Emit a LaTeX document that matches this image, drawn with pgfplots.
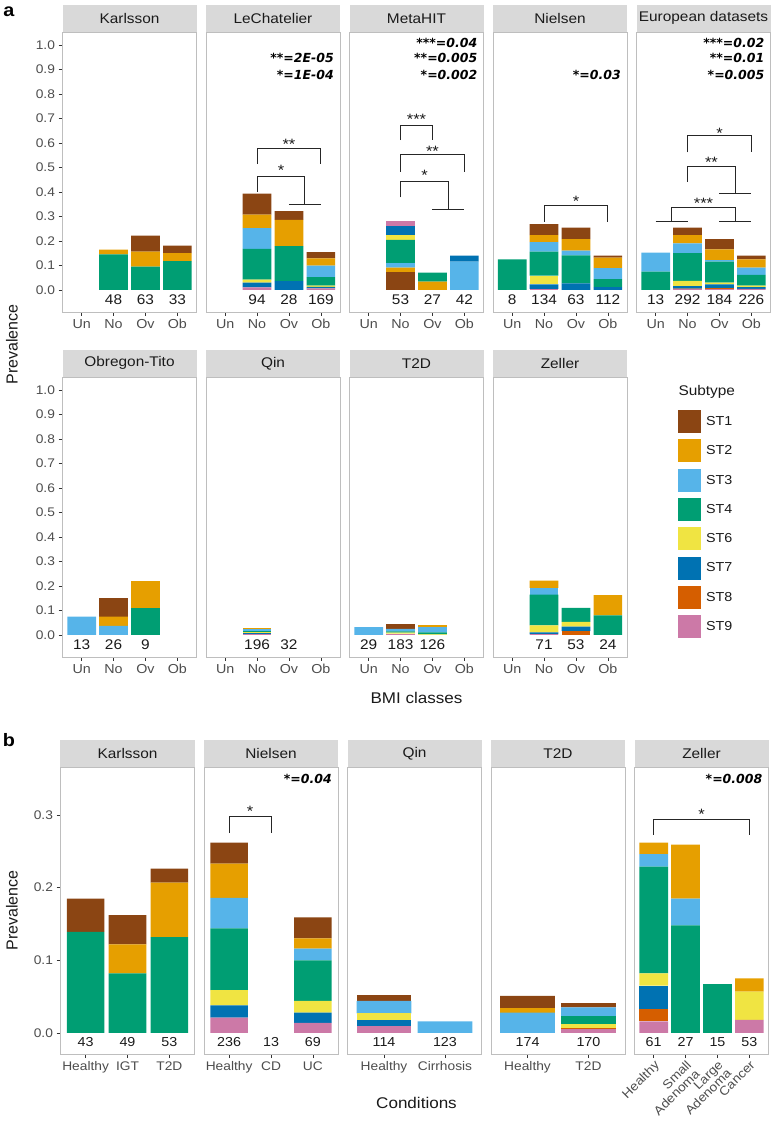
\documentclass[border=0pt]{standalone}
\usepackage{pgfplots}
\pgfplotsset{compat=1.18}
\usepackage{pgfplotstable}
\usepackage{fontspec}
\setmainfont{Liberation Sans}[FakeStretch=1.1]
\newfontfamily\plainsans{Liberation Sans}
\newfontfamily\annfont{DejaVu Sans}

\definecolor{c1}{RGB}{139,69,19}
\definecolor{c2}{RGB}{230,159,0}
\definecolor{c3}{RGB}{86,180,233}
\definecolor{c4}{RGB}{0,158,115}
\definecolor{c6}{RGB}{240,228,66}
\definecolor{c7}{RGB}{0,114,178}
\definecolor{c8}{RGB}{213,94,0}
\definecolor{c9}{RGB}{204,121,167}
\definecolor{stripgray}{RGB}{217,217,217}
\definecolor{bordergray}{RGB}{190,190,190}
\definecolor{tickgray}{RGB}{51,51,51}
\definecolor{labgray}{RGB}{77,77,77}
\definecolor{txt}{RGB}{26,26,26}

% ---------------- data (prevalence per subtype) ----------------
% panel a: x = 1 Un, 2 No, 3 Ov, 4 Ob
\pgfplotstableread{
x ST9 ST8 ST7 ST6 ST4 ST3 ST2 ST1
2 0 0 0 0 0.145 0 0.020 0
3 0 0 0 0 0.095 0 0.061 0.066
4 0 0 0 0 0.118 0 0.032 0.031
}\tKarA
\pgfplotstableread{
x ST9 ST8 ST7 ST6 ST4 ST3 ST2 ST1
2 0.010 0 0.020 0.012 0.126 0.084 0.055 0.086
3 0 0 0.036 0 0.143 0 0.107 0.036
4 0.006 0 0.006 0.006 0.034 0.047 0.030 0.025
}\tLeCA
\pgfplotstableread{
x ST9 ST8 ST7 ST6 ST4 ST3 ST2 ST1
2 0.022 0 0.037 0.020 0.095 0.018 0.019 0.072
3 0 0 0 0 0.037 0 0.034 0
4 0 0 0.024 0 0 0.116 0 0
}\tMetA
\pgfplotstableread{
x ST9 ST8 ST7 ST6 ST4 ST3 ST2 ST1
1 0 0 0 0 0.125 0 0 0
2 0.004 0 0.019 0.035 0.098 0.039 0.029 0.045
3 0 0 0.027 0 0.114 0.019 0.047 0.047
4 0 0 0.011 0 0.033 0.045 0.043 0.008
}\tNieA
\pgfplotstableread{
x ST9 ST8 ST7 ST6 ST4 ST3 ST2 ST1
1 0 0 0 0 0.075 0.077 0 0
2 0.003 0.002 0.011 0.021 0.113 0.040 0.034 0.030
3 0.003 0.004 0.016 0.007 0.086 0.006 0.044 0.041
4 0.004 0 0.007 0.007 0.043 0.030 0.034 0.015
}\tEurA
\pgfplotstableread{
x ST9 ST8 ST7 ST6 ST4 ST3 ST2 ST1
1 0 0 0 0 0 0.075 0 0
2 0 0 0 0 0 0.037 0.038 0.077
3 0 0 0 0 0.110 0 0.110 0
}\tObrA
\pgfplotstableread{
x ST9 ST8 ST7 ST6 ST4 ST3 ST2 ST1
2 0.003 0 0.004 0.003 0.006 0.009 0.003 0.002
}\tQinA
\pgfplotstableread{
x ST9 ST8 ST7 ST6 ST4 ST3 ST2 ST1
1 0 0 0 0 0 0.032 0 0
2 0.002 0 0.003 0.004 0.006 0.010 0 0.021
3 0 0 0 0.002 0.008 0.022 0.007 0
}\tTtdA
\pgfplotstableread{
x ST9 ST8 ST7 ST6 ST4 ST3 ST2 ST1
2 0.002 0 0.008 0.029 0.126 0.027 0.030 0
3 0 0.016 0.018 0.019 0.058 0 0 0
4 0 0 0 0 0.080 0 0.083 0
}\tZelA
% panel b
\pgfplotstableread{
x ST9 ST8 ST7 ST6 ST4 ST3 ST2 ST1
1 0 0 0 0 0.139 0 0 0.046
2 0 0 0 0 0.082 0 0.040 0.040
3 0 0 0 0 0.132 0 0.075 0.019
}\tKarB
\pgfplotstableread{
x ST9 ST8 ST7 ST6 ST4 ST3 ST2 ST1
1 0.021 0 0.017 0.021 0.085 0.042 0.047 0.029
3 0.014 0 0.014 0.016 0.056 0.016 0.014 0.029
}\tNieB
\pgfplotstableread{
x ST9 ST8 ST7 ST6 ST4 ST3 ST2 ST1
1 0.009 0 0.009 0.009 0 0.017 0 0.008
2 0 0 0 0 0 0.016 0 0
}\tQinB
\pgfplotstableread{
x ST9 ST8 ST7 ST6 ST4 ST3 ST2 ST1
1 0 0 0 0 0 0.028 0.006 0.017
2 0.005 0.002 0 0.005 0.011 0.012 0 0.006
}\tTtdB
\pgfplotstableread{
x ST9 ST8 ST7 ST6 ST4 ST3 ST2 ST1
1 0.016 0.017 0.032 0.017 0.147 0.017 0.016 0
2 0 0 0 0 0.148 0.037 0.074 0
3 0 0 0 0 0.067 0 0 0
4 0.018 0 0 0.039 0 0 0.018 0
}\tZelB

\newcommand{\seg}[3]{\addplot[fill=#2,draw=none,legend image code/.code={\fill[#2] (0pt,-11.5pt) rectangle (23pt,11.5pt);}] table[x=x,y=#1]{#3};}
\newcommand{\stacks}[1]{\seg{ST9}{c9}{#1}\seg{ST8}{c8}{#1}\seg{ST7}{c7}{#1}\seg{ST6}{c6}{#1}\seg{ST4}{c4}{#1}\seg{ST3}{c3}{#1}\seg{ST2}{c2}{#1}\seg{ST1}{c1}{#1}}
\newcommand{\stacksrev}[1]{\seg{ST1}{c1}{#1}\seg{ST2}{c2}{#1}\seg{ST3}{c3}{#1}\seg{ST4}{c4}{#1}\seg{ST6}{c6}{#1}\seg{ST7}{c7}{#1}\seg{ST8}{c8}{#1}\seg{ST9}{c9}{#1}}
\newcommand{\brk}[5]{\draw[brk] (axis cs:#1,#4) |- (axis cs:#2,#3) -- (axis cs:#2,#5);}
\newcommand{\xbar}[3]{\draw[brk] (axis cs:#1,#3) -- (axis cs:#2,#3);}

\pgfplotsset{
  facet/.style={
    scale only axis, width=134pt, anchor=south west,
    ybar stacked, bar width=0.9,
    axis line style={draw=bordergray, line width=0.6pt},
    tick align=outside, xtick pos=left, ytick pos=left,
    major tick length=4pt,
    tick style={draw=tickgray, line width=0.7pt},
    clip=false,
    every axis title/.style={at={(0.5,1)}, anchor=south, fill=stripgray, minimum width=134pt, minimum height=27pt, inner sep=0pt, font=\fontsize{14}{15}\selectfont, text=txt},
    ytick=\empty,
    xticklabel style={font=\fontsize{13}{15}\selectfont, text=labgray},
    yticklabel style={font=\fontsize{12.5}{14}\selectfont, text=labgray},
  },
  facetA/.style={facet, height=280pt, ymin=-0.09, ymax=1.053, xmin=0.4, xmax=4.6,
    xtick={1,2,3,4}, xticklabels={Un,No,Ov,Ob}},
  ylabA/.style={ytick={0,0.1,0.2,0.3,0.4,0.5,0.6,0.7,0.8,0.9,1.0},
    yticklabels={0.0,0.1,0.2,0.3,0.4,0.5,0.6,0.7,0.8,0.9,1.0}},
  facetB/.style={facet, height=287pt, ymin=-0.029, ymax=0.366},
}
\tikzset{
  brk/.style={draw=black!85, line width=0.85pt},
  cnt/.style={font=\fontsize{14}{14}\selectfont, text=txt, inner sep=0pt},
  cntb/.style={font=\fontsize{13}{13}\selectfont, text=txt, inner sep=0pt},
  star/.style={font=\fontsize{15}{15}\selectfont, text=txt, inner sep=0pt, yshift=-3pt},
  ann/.style={font=\annfont\bfseries\itshape\fontsize{12.5}{13}\selectfont, text=black, anchor=east, inner sep=0pt},
}

\begin{document}
\begin{tikzpicture}
\useasboundingbox (0,0) rectangle (774pt,1123pt);

% ================= panel a, row 1 =================
\begin{axis}[facetA, ylabA, at={(62.5pt,811pt)}, title={Karlsson}]
\stacks{\tKarA}
\node[cnt] at (axis cs:2,-0.041) {48};
\node[cnt] at (axis cs:3,-0.041) {63};
\node[cnt] at (axis cs:4,-0.041) {33};
\end{axis}

\begin{axis}[facetA, at={(206pt,811pt)}, title={LeChatelier}]
\stacks{\tLeCA}
\node[cnt] at (axis cs:2,-0.041) {94};
\node[cnt] at (axis cs:3,-0.041) {28};
\node[cnt] at (axis cs:4,-0.041) {169};
\brk{2}{4}{0.578}{0.514}{0.514}
\node[star] at (axis cs:3,0.605) {**};
\brk{2}{3.5}{0.465}{0.401}{0.351}
\xbar{3}{4}{0.351}
\node[star] at (axis cs:2.75,0.50) {*};
\node[ann] at (rel axis cs:0.955,0.906) {**=2E-05};
\node[ann] at (rel axis cs:0.955,0.846) {*=1E-04};
\end{axis}

\begin{axis}[facetA, at={(349.5pt,811pt)}, title={MetaHIT}]
\stacksrev{\tMetA}
\node[cnt] at (axis cs:2,-0.041) {53};
\node[cnt] at (axis cs:3,-0.041) {27};
\node[cnt] at (axis cs:4,-0.041) {42};
\brk{2}{3}{0.673}{0.612}{0.612}
\node[star] at (axis cs:2.5,0.707) {***};
\brk{2}{4}{0.555}{0.483}{0.483}
\node[star] at (axis cs:3,0.578) {**};
\brk{2}{3.5}{0.442}{0.378}{0.329}
\xbar{3}{4}{0.329}
\node[star] at (axis cs:2.75,0.479) {*};
\node[ann] at (rel axis cs:0.955,0.96) {***=0.04};
\node[ann] at (rel axis cs:0.955,0.906) {**=0.005};
\node[ann] at (rel axis cs:0.955,0.846) {*=0.002};
\end{axis}

\begin{axis}[facetA, at={(493pt,811pt)}, title={Nielsen}]
\stacks{\tNieA}
\node[cnt] at (axis cs:1,-0.041) {8};
\node[cnt] at (axis cs:2,-0.041) {134};
\node[cnt] at (axis cs:3,-0.041) {63};
\node[cnt] at (axis cs:4,-0.041) {112};
\brk{2}{4}{0.343}{0.279}{0.279}
\node[star] at (axis cs:3,0.374) {*};
\node[ann] at (rel axis cs:0.955,0.846) {*=0.03};
\end{axis}

\begin{axis}[facetA, at={(636.5pt,811pt)}, title={European datasets}]
\stacks{\tEurA}
\node[cnt] at (axis cs:1,-0.041) {13};
\node[cnt] at (axis cs:2,-0.041) {292};
\node[cnt] at (axis cs:3,-0.041) {184};
\node[cnt] at (axis cs:4,-0.041) {226};
\brk{2}{4}{0.629}{0.562}{0.562}
\node[star] at (axis cs:3,0.653) {*};
\brk{2}{3.5}{0.503}{0.442}{0.395}
\xbar{3}{4}{0.395}
\node[star] at (axis cs:2.75,0.533) {**};
\brk{1.5}{3.5}{0.338}{0.279}{0.279}
\xbar{1}{2}{0.279}
\xbar{3}{4}{0.279}
\node[star] at (axis cs:2.5,0.367) {***};
\node[ann] at (rel axis cs:0.955,0.96) {***=0.02};
\node[ann] at (rel axis cs:0.955,0.906) {**=0.01};
\node[ann] at (rel axis cs:0.955,0.846) {*=0.005};
\end{axis}

% ================= panel a, row 2 =================
\begin{axis}[facetA, ylabA, at={(62.5pt,466pt)}, title={Obregon-Tito}]
\stacks{\tObrA}
\node[cnt] at (axis cs:1,-0.041) {13};
\node[cnt] at (axis cs:2,-0.041) {26};
\node[cnt] at (axis cs:3,-0.041) {9};
\end{axis}

\begin{axis}[facetA, at={(206pt,466pt)}, title={Qin}]
\stacks{\tQinA}
\node[cnt] at (axis cs:2,-0.041) {196};
\node[cnt] at (axis cs:3,-0.041) {32};
\end{axis}

\begin{axis}[facetA, at={(349.5pt,466pt)}, title={T2D}]
\stacks{\tTtdA}
\node[cnt] at (axis cs:1,-0.041) {29};
\node[cnt] at (axis cs:2,-0.041) {183};
\node[cnt] at (axis cs:3,-0.041) {126};
\end{axis}

\begin{axis}[facetA, at={(493pt,466pt)}, title={Zeller},
  reverse legend,
  legend style={at={(1,1)}, anchor=north west, xshift=51pt, yshift=-33pt,
    draw=none, fill=none, inner sep=0pt, row sep=6.3pt, column sep=5pt,
    nodes={inner sep=0pt}, font=\fontsize{13}{14}\selectfont, text=txt},
  legend cell align=left]
\stacks{\tZelA}
\node[cnt] at (axis cs:2,-0.041) {71};
\node[cnt] at (axis cs:3,-0.041) {53};
\node[cnt] at (axis cs:4,-0.041) {24};
\legend{ST9,ST8,ST7,ST6,ST4,ST3,ST2,ST1}
\end{axis}

\node[anchor=west, font=\fontsize{14}{14}\selectfont, text=txt] at (675pt,731pt) {Subtype};

% ================= panel b =================
\begin{axis}[facetB, at={(60.5pt,69pt)}, title={Karlsson}, xmin=0.4, xmax=3.6,
  xtick={1,2,3}, xticklabels={Healthy,IGT,T2D},
  ytick={0,0.1,0.2,0.3}, yticklabels={0.0,0.1,0.2,0.3},
  xticklabel style={font=\fontsize{12.5}{14}\selectfont}]
\stacks{\tKarB}
\node[cntb] at (axis cs:1,-0.012) {43};
\node[cntb] at (axis cs:2,-0.012) {49};
\node[cntb] at (axis cs:3,-0.012) {53};
\end{axis}

\begin{axis}[facetB, at={(204pt,69pt)}, title={Nielsen}, xmin=0.4, xmax=3.6,
  xtick={1,2,3}, xticklabels={Healthy,CD,UC},
  xticklabel style={font=\fontsize{12.5}{14}\selectfont}]
\stacks{\tNieB}
\node[cntb] at (axis cs:1,-0.012) {236};
\node[cntb] at (axis cs:2,-0.012) {13};
\node[cntb] at (axis cs:3,-0.012) {69};
\brk{1}{2}{0.298}{0.275}{0.275}
\node[star] at (axis cs:1.5,0.309) {*};
\node[ann] at (rel axis cs:0.955,0.958) {*=0.04};
\end{axis}

\begin{axis}[facetB, at={(347.5pt,69pt)}, title={Qin}, xmin=0.4, xmax=2.6,
  xtick={1,2}, xticklabels={Healthy,Cirrhosis},
  xticklabel style={font=\fontsize{12.5}{14}\selectfont}]
\stacks{\tQinB}
\node[cntb] at (axis cs:1,-0.012) {114};
\node[cntb] at (axis cs:2,-0.012) {123};
\end{axis}

\begin{axis}[facetB, at={(491pt,69pt)}, title={T2D}, xmin=0.4, xmax=2.6,
  xtick={1,2}, xticklabels={Healthy,T2D},
  xticklabel style={font=\fontsize{12.5}{14}\selectfont}]
\stacks{\tTtdB}
\node[cntb] at (axis cs:1,-0.012) {174};
\node[cntb] at (axis cs:2,-0.012) {170};
\end{axis}

\begin{axis}[facetB, at={(634.5pt,69pt)}, title={Zeller}, xmin=0.4, xmax=4.6,
  xtick={1,2,3,4}, xticklabels={Healthy,{Small\\Adenoma},{Large\\Adenoma},Cancer},
  xticklabel style={rotate=45, anchor=north east, align=right, inner sep=1pt,
    font=\fontsize{12.5}{12}\selectfont}]
\stacks{\tZelB}
\node[cntb] at (axis cs:1,-0.012) {61};
\node[cntb] at (axis cs:2,-0.012) {27};
\node[cntb] at (axis cs:3,-0.012) {15};
\node[cntb] at (axis cs:4,-0.012) {53};
\brk{1}{4}{0.294}{0.273}{0.273}
\node[star] at (axis cs:2.5,0.305) {*};
\node[ann] at (rel axis cs:0.955,0.958) {*=0.008};
\end{axis}

% ================= titles =================
\node[font=\plainsans\fontsize{16}{16}\selectfont, rotate=90, text=txt] at (12pt,778.5pt) {Prevalence};
\node[font=\plainsans\fontsize{16}{16}\selectfont, rotate=90, text=txt] at (12pt,212.5pt) {Prevalence};
\node[font=\fontsize{15.5}{16}\selectfont, text=txt] at (416.5pt,425pt) {BMI classes};
\node[font=\fontsize{15.5}{16}\selectfont, text=txt] at (416.5pt,20pt) {Conditions};
\node[font=\bfseries\fontsize{18}{18}\selectfont] at (9pt,1111pt) {a};
\node[font=\bfseries\fontsize{18}{18}\selectfont] at (9pt,383pt) {b};
\end{tikzpicture}
\end{document}
